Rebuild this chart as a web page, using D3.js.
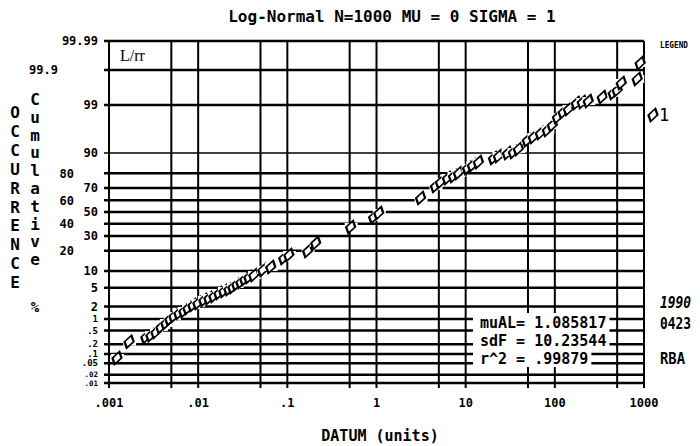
<!DOCTYPE html>
<html>
<head>
<meta charset="utf-8">
<script src="https://cdn.jsdelivr.net/npm/d3@7"></script>
<style>
  body { margin: 0; background: #fff; }
  svg text { font-family: "DejaVu Sans Mono", monospace; font-weight: bold; fill: #000; }
</style>
</head>
<body>
<div id="chart"></div>
<script>
// points (datum in units, cumulative percent)
const datum = [0.00123, 0.00168, 0.00259, 0.00295, 0.00336, 0.00382, 0.00434, 0.00482, 0.00535, 0.00608,
  0.00692, 0.00768, 0.00873, 0.00993, 0.0116, 0.0132, 0.0150, 0.0171, 0.0194, 0.0221,
  0.0245, 0.0271, 0.0301, 0.0333, 0.0370, 0.0421, 0.0531, 0.0652, 0.0912, 0.104,
  0.169, 0.208, 0.513, 0.929, 1.06, 3.12, 4.59, 5.22, 6.25, 7.30,
  8.30, 10.5, 11.9, 13.9, 20.5, 23.3, 29.4, 34.3, 39.0, 49.2,
  57.4, 68.8, 82.4, 93.8, 107, 124, 142, 174, 203, 237,
  340, 452, 501, 556, 839, 906];
const cumPct = [0.075, 0.24, 0.33, 0.37, 0.45, 0.62, 0.79, 1.0, 1.19, 1.41,
  1.57, 1.84, 2.16, 2.40, 2.79, 3.07, 3.39, 3.91, 4.30, 4.71,
  5.15, 5.88, 6.40, 7.26, 7.88, 8.5, 10.4, 11.6, 15.9, 17.5,
  19.8, 25.0, 37.2, 45.7, 49.1, 62.0, 71.4, 74.3, 77.0, 78.3,
  80.2, 83.1, 84.6, 86.1, 88.0, 88.8, 90.0, 90.4, 91.5, 94.1,
  94.85, 95.7, 96.27, 97.07, 98.05, 98.51, 98.74, 99.11, 99.16, 99.21,
  99.38, 99.52, 99.60, 99.75, 99.81, 99.94];

const xGrid = [0.001, 0.005, 0.01, 0.05, 0.1, 0.5, 1, 5, 10, 50, 100, 500, 1000];
const xTicks = [0.001, 0.01, 0.1, 1, 10, 100, 1000];
const xTickLabels = [".001", ".01", ".1", "1", "10", "100", "1000"];
const yTicks = [99.99, 99.9, 99, 90, 80, 70, 60, 50, 40, 30, 20, 10, 5, 2, 1, 0.5, 0.2, 0.1, 0.05, 0.02, 0.01];
const yTickLabels = ["99.99", "99.9", "99", "90", "80", "70", "60", "50", "40", "30", "20", "10", "5", "2", "1", ".5", ".2", ".1", ".05", ".02", ".01"];
const yOuterLabels = ["99.9", "80", "60", "40", "20"];   // printed in the left column
const statLines = ["muAL= 1.085817", "sdF = 10.23544", "r^2 = .99879"];
const stamp = ["1990", "0423", "RBA"];
const yTitle1 = "OCCURRENCE";
const yTitle2 = "Cumulative";

// inverse normal cdf (Acklam) for the probability axis
function probit(p) {
  const a = [-3.969683028665376e+01, 2.209460984245205e+02, -2.759285104469687e+02, 1.383577518672690e+02, -3.066479806614716e+01, 2.506628277459239e+00];
  const b = [-5.447609879822406e+01, 1.615858368580409e+02, -1.556989798598866e+02, 6.680131188771972e+01, -1.328068155288572e+01];
  const c = [-7.784894002430293e-03, -3.223964580411365e-01, -2.400758277161838e+00, -2.549732539343734e+00, 4.374664141464968e+00, 2.938163982698783e+00];
  const d = [7.784695709041462e-03, 3.224671290700398e-01, 2.445134137142996e+00, 3.754408661907416e+00];
  const pl = 0.02425;
  if (p < pl) {
    const q = Math.sqrt(-2 * Math.log(p));
    return (((((c[0]*q+c[1])*q+c[2])*q+c[3])*q+c[4])*q+c[5]) / ((((d[0]*q+d[1])*q+d[2])*q+d[3])*q+1);
  }
  if (p > 1 - pl) {
    const q = Math.sqrt(-2 * Math.log(1 - p));
    return -(((((c[0]*q+c[1])*q+c[2])*q+c[3])*q+c[4])*q+c[5]) / ((((d[0]*q+d[1])*q+d[2])*q+d[3])*q+1);
  }
  const q = p - 0.5, r = q * q;
  return (((((a[0]*r+a[1])*r+a[2])*r+a[3])*r+a[4])*r+a[5])*q / (((((b[0]*r+b[1])*r+b[2])*r+b[3])*r+b[4])*r+1);
}

const width = 700, height = 446;
const plotL = 109, plotR = 644, plotT = 41, plotB = 383;

const svg = d3.select('#chart').append('svg')
  .attr('width', width).attr('height', height);

const x = d3.scaleLog().domain([0.001, 1000]).range([plotL, plotR]);
const z = d3.scaleLinear().domain([probit(0.0001), probit(0.9999)]).range([plotB, plotT]);
const y = p => z(probit(p / 100));

// horizontal grid
svg.append('g').selectAll('line')
  .data(yTicks).enter().append('line')
  .attr('x1', plotL - 5).attr('x2', plotR)
  .attr('y1', d => y(d)).attr('y2', d => y(d))
  .attr('stroke', '#000')
  .attr('stroke-width', d => d === 90 ? 1.6 : 2.5);

// vertical grid
svg.append('g').selectAll('line')
  .data(xGrid).enter().append('line')
  .attr('x1', d => x(d)).attr('x2', d => x(d))
  .attr('y1', plotT).attr('y2', plotB + 5)
  .attr('stroke', '#000')
  .attr('stroke-width', 2);

// y tick labels (the crowded low ones are smaller)
svg.append('g').selectAll('text')
  .data(yTicks).enter().append('text')
  .attr('x', (d, i) => yTickLabels[i] === '99.9' ? 58 : (yOuterLabels.includes(yTickLabels[i]) ? 74 : 98))
  .attr('y', d => y(d))
  .attr('dy', '0.35em')
  .attr('text-anchor', 'end')
  .attr('font-size', d => d < 0.05 ? 7.5 : (d < 2 ? 9 : 12))
  .text((d, i) => yTickLabels[i]);

// x tick labels
svg.append('g').selectAll('text')
  .data(xTicks).enter().append('text')
  .attr('x', d => x(d))
  .attr('y', 407)
  .attr('text-anchor', 'middle')
  .attr('font-size', 12)
  .text((d, i) => xTickLabels[i]);

// title
svg.append('text')
  .attr('x', 392).attr('y', 22)
  .attr('text-anchor', 'middle')
  .attr('font-size', 16)
  .text('Log-Normal N=1000 MU = 0 SIGMA = 1');

svg.append('text')
  .attr('x', 380).attr('y', 441)
  .attr('text-anchor', 'middle')
  .attr('font-size', 15)
  .text('DATUM (units)');

// stacked y titles
svg.append('g').selectAll('text')
  .data(yTitle1.split('')).enter().append('text')
  .attr('x', 15).attr('y', (d, i) => 118 + i * 18.9)
  .attr('text-anchor', 'middle')
  .attr('font-size', 16)
  .text(d => d);
svg.append('g').selectAll('text')
  .data(yTitle2.split('')).enter().append('text')
  .attr('x', 35).attr('y', (d, i) => 105 + i * 17.8)
  .attr('text-anchor', 'middle')
  .attr('font-size', 16)
  .text(d => d);
svg.append('text')
  .attr('x', 35).attr('y', 312)
  .attr('text-anchor', 'middle')
  .attr('font-size', 14)
  .text('%');

svg.append('text')
  .attr('x', 120).attr('y', 61)
  .style('font-family', '"Liberation Serif", serif')
  .style('font-weight', 'normal')
  .attr('font-size', 16)
  .text('L/rr');

// data points: each cell blanks the grid, later cells clip earlier marks
const sym = d3.symbol().type(d3.symbolDiamond).size(46);
const pts = svg.append('g');
datum.forEach((v, i) => {
  const px = x(v), py = y(cumPct[i]);
  pts.append('rect')
    .attr('x', px - 6).attr('y', py - 4)
    .attr('width', 13).attr('height', 8)
    .attr('fill', '#fff');
  pts.append('path')
    .attr('d', sym())
    .attr('transform', `translate(${px},${py}) skewX(-20) scale(1.25,1)`)
    .attr('fill', 'none')
    .attr('stroke', '#000')
    .attr('stroke-width', 1.7);
});

// fit statistics box
const stats = svg.append('g');
statLines.forEach((s, i) => {
  const cy = 322 + i * 18;
  const bg = stats.append('rect').attr('fill', '#fff');
  const t = stats.append('text')
    .attr('x', 480).attr('y', cy + 6)
    .attr('font-size', 15)
    .text(s);
  const bb = t.node().getBBox();
  bg.attr('x', 473).attr('y', cy - 9)
    .attr('width', bb.x + bb.width + 3 - 473).attr('height', 18);
});

// legend
svg.append('text')
  .attr('x', 660).attr('y', 48)
  .attr('font-size', 9)
  .attr('textLength', 28).attr('lengthAdjust', 'spacingAndGlyphs')
  .text('LEGEND');
svg.append('path')
  .attr('d', sym())
  .attr('transform', 'translate(653,115) skewX(-20) scale(1.25,1)')
  .attr('fill', 'none').attr('stroke', '#000').attr('stroke-width', 1.7);
svg.append('text')
  .attr('x', 659).attr('y', 121)
  .attr('font-size', 17)
  .style('font-weight', 'normal')
  .text('1');

// date stamp
svg.append('g').selectAll('text')
  .data(stamp).enter().append('text')
  .attr('x', 660)
  .attr('y', (d, i) => [308, 329, 364][i])
  .attr('font-size', 16)
  .attr('font-style', (d, i) => i === 0 ? 'italic' : 'normal')
  .attr('textLength', (d, i) => i === 2 ? 25 : 31)
  .attr('lengthAdjust', 'spacingAndGlyphs')
  .text(d => d);
</script>
</body>
</html>
